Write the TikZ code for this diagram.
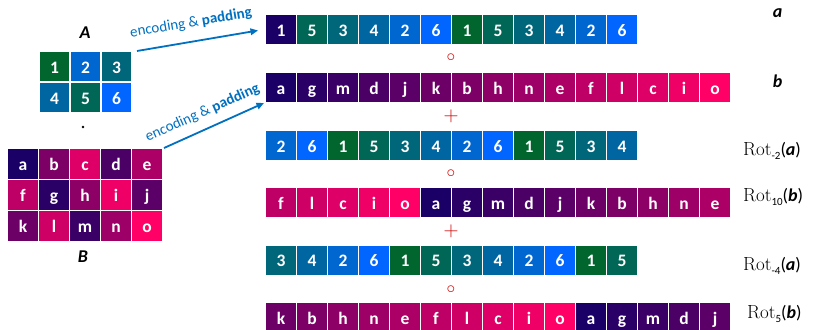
\documentclass[tikz,border=0pt]{standalone}
\usepackage{fontspec}
\setsansfont{Carlito}
\usetikzlibrary{arrows.meta}
\definecolor{nv}{RGB}{26,0,102}
\definecolor{n1}{RGB}{0,102,45}
\definecolor{n5}{RGB}{0,102,85}
\definecolor{n3}{RGB}{0,102,122}
\definecolor{n4}{RGB}{0,102,162}
\definecolor{n2}{RGB}{0,102,208}
\definecolor{n6}{RGB}{0,102,255}
\definecolor{la}{RGB}{26,0,102}
\definecolor{lg}{RGB}{42,0,102}
\definecolor{lm}{RGB}{59,0,102}
\definecolor{ld}{RGB}{75,0,102}
\definecolor{lj}{RGB}{91,0,102}
\definecolor{lk}{RGB}{108,0,102}
\definecolor{lb}{RGB}{124,0,102}
\definecolor{lh}{RGB}{141,0,102}
\definecolor{ln}{RGB}{157,0,102}
\definecolor{le}{RGB}{173,0,102}
\definecolor{lf}{RGB}{190,0,102}
\definecolor{ll}{RGB}{206,0,102}
\definecolor{lc}{RGB}{222,0,102}
\definecolor{li}{RGB}{239,0,102}
\definecolor{lo}{RGB}{255,0,102}
\definecolor{arrblue}{RGB}{0,112,192}
\definecolor{opred}{RGB}{204,0,0}
\begin{document}
\begin{tikzpicture}[x=1pt,y=-1pt,
  cell/.style={minimum width=31pt, minimum height=30.5pt, inner sep=0pt, draw=white, line width=1.5pt,
    text=white, font=\sffamily\bfseries\fontsize{17.5}{20}\selectfont, text height=15.5pt, text depth=2pt},
  mcell/.style={cell, minimum height=31pt},
  arr/.style={draw=arrblue, line width=1.8pt, -{Triangle[length=7.5pt,width=6.5pt]}},
  lbl/.style={text=arrblue, font=\sffamily\fontsize{15}{18}\selectfont, inner sep=0pt},
  op/.style={text=opred, inner sep=0pt},
  namelbl/.style={font=\sffamily\bfseries\itshape\fontsize{18}{21}\selectfont, inner sep=0pt, anchor=base},
  rlab/.style={inner sep=0pt, anchor=base west}]
\useasboundingbox (0,0) rectangle (813,329);
% matrix A
\foreach \t [count=\i] in {1,2,3} \node[mcell, fill=n\t] (A-\t) at (23.5+31*\i, 66.5) {\t};
\foreach \t [count=\i] in {4,5,6} \node[mcell, fill=n\t] (A-\t) at (23.5+31*\i, 97.5) {\t};
\node[namelbl] (Alab) at (85,38) {A};
\node[circle, fill=black, inner sep=0pt, minimum size=2.8pt] (dot) at (83,127) {};
% matrix B
\foreach \t [count=\i] in {a,b,c,d,e} \node[mcell, fill=l\t] (B-\t) at (-8+31*\i, 164) {\t};
\foreach \t [count=\i] in {f,g,h,i,j} \node[mcell, fill=l\t] (B-\t) at (-8+31*\i, 195) {\t};
\foreach \t [count=\i] in {k,l,m,n,o} \node[mcell, fill=l\t] (B-\t) at (-8+31*\i, 226) {\t};
\node[namelbl] (Blab) at (83,262) {B};
% arrows
\coordinate (s1) at (137,51);
\coordinate (e1) at (258,30.5);
\draw[arr] (s1) -- (e1);
\node[lbl, rotate=9.5] (t1) at (191,23) {encoding \& \textbf{padding}};
\coordinate (s2) at (164,148);
\coordinate (e2) at (264,103);
\draw[arr] (s2) -- (e2);
\node[lbl, rotate=24] (t2) at (202.5,113) {encoding \& \textbf{padding}};
% row a
\foreach \t/\c [count=\i] in {1/nv,5/n5,3/n3,4/n4,2/n2,6/n6,1/n1,5/n5,3/n3,4/n4,2/n2,6/n6}
  \node[cell, fill=\c] (ra-\i) at (250+31*\i, 29.5) {\t};
% row b
\foreach \t [count=\i] in {a,g,m,d,j,k,b,h,n,e,f,l,c,i,o}
  \node[cell, fill=l\t] (rb-\i) at (250+31*\i, 87.3) {\t};
% Rot-2(a)
\foreach \t [count=\i] in {2,6,1,5,3,4,2,6,1,5,3,4}
  \node[cell, fill=n\t] (rc-\i) at (250+31*\i, 145.5) {\t};
% Rot10(b)
\foreach \t [count=\i] in {f,l,c,i,o,a,g,m,d,j,k,b,h,n,e}
  \node[cell, fill=l\t] (rd-\i) at (250+31*\i, 202.5) {\t};
% Rot-4(a)
\foreach \t [count=\i] in {3,4,2,6,1,5,3,4,2,6,1,5}
  \node[cell, fill=n\t] (re-\i) at (250+31*\i, 260.2) {\t};
% Rot5(b)
\foreach \t [count=\i] in {k,b,h,n,e,f,l,c,i,o,a,g,m,d,j}
  \node[cell, fill=l\t] (rf-\i) at (250+31*\i, 317.7) {\t};
% operators
\node[op, font=\fontsize{17}{19}\selectfont] (o1) at (451,58) {$\circ$};
\node[op, font=\fontsize{21}{23}\selectfont] (p1) at (451,116.5) {$+$};
\node[op, font=\fontsize{17}{19}\selectfont] (o2) at (451,173.5) {$\circ$};
\node[op, font=\fontsize{21}{23}\selectfont] (p2) at (451,231.5) {$+$};
\node[op, font=\fontsize{17}{19}\selectfont] (o3) at (451,290) {$\circ$};
% right labels
\node[namelbl] (la) at (777.5,18) {a};
\node[namelbl] (lb) at (777.5,87.5) {b};
\newcommand{\rotlab}[2]{{\fontsize{19}{22}\selectfont Rot}\raisebox{-4pt}{\sffamily\fontsize{11}{12}\selectfont #1}{\sffamily\fontsize{18}{20}\selectfont(\textbf{\textit{#2}})}}
\node[rlab] (r1) at (743,155.7) {\rotlab{-2}{a}};
\node[rlab] (r2) at (743,201.7) {\rotlab{10}{b}};
\node[rlab] (r3) at (743,270) {\rotlab{-4}{a}};
\node[rlab] (r4) at (747,318.3) {\rotlab{5}{b}};
\end{tikzpicture}
\end{document}
